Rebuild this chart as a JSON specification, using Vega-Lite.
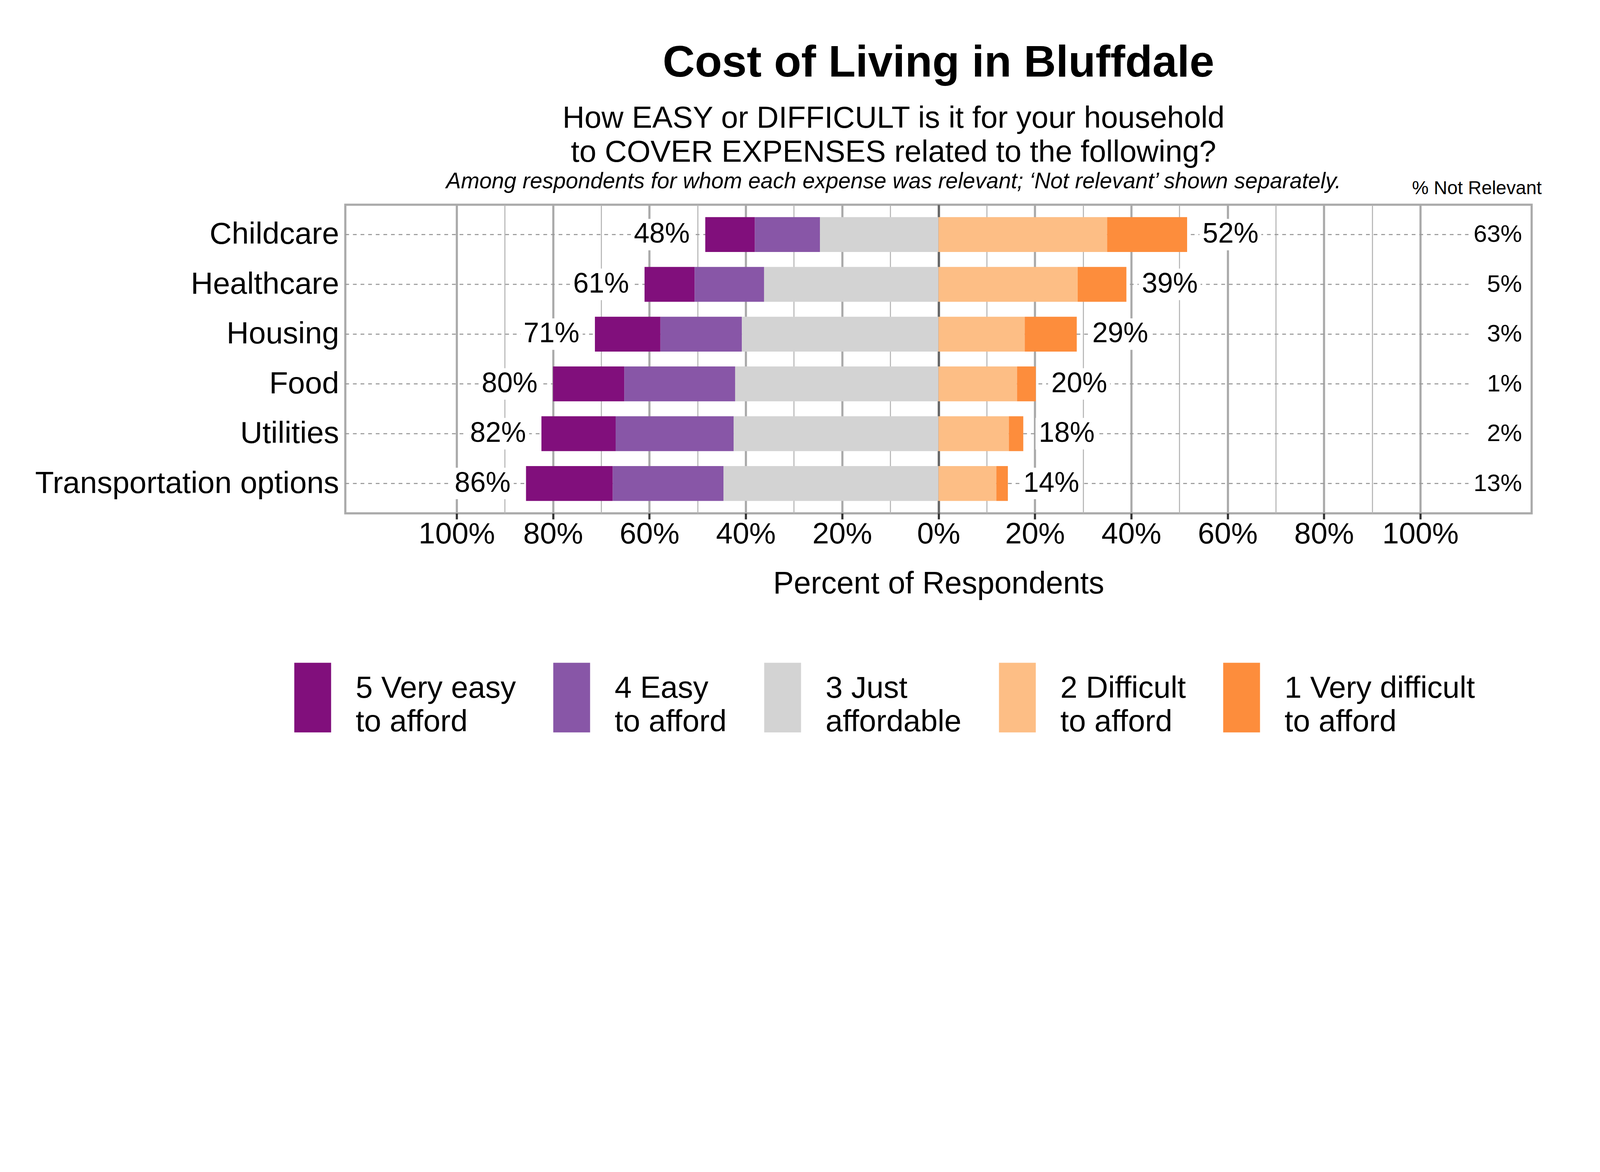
{
  "$schema": "https://vega.github.io/schema/vega-lite/v6.json",
  "width": 3037,
  "height": 790,
  "padding": {"left": 89, "top": 105, "right": 7, "bottom": 7},
  "background": "white",
  "title": {
    "text": "Cost of Living in Bluffdale",
    "anchor": "middle",
    "frame": "group",
    "fontSize": 114,
    "fontWeight": "bold",
    "color": "black",
    "offset": 43.6
  },
  "datasets": {
    "bars": [
      {"item": "Childcare", "level": "5 Very easy to afford", "pct": -10.3},
      {"item": "Childcare", "level": "4 Easy to afford", "pct": -13.5},
      {"item": "Childcare", "level": "3 Just affordable", "pct": -24.6},
      {"item": "Childcare", "level": "2 Difficult to afford", "pct": 35.0},
      {"item": "Childcare", "level": "1 Very difficult to afford", "pct": 16.6},
      {"item": "Healthcare", "level": "5 Very easy to afford", "pct": -10.4},
      {"item": "Healthcare", "level": "4 Easy to afford", "pct": -14.4},
      {"item": "Healthcare", "level": "3 Just affordable", "pct": -36.2},
      {"item": "Healthcare", "level": "2 Difficult to afford", "pct": 28.9},
      {"item": "Healthcare", "level": "1 Very difficult to afford", "pct": 10.1},
      {"item": "Housing", "level": "5 Very easy to afford", "pct": -13.6},
      {"item": "Housing", "level": "4 Easy to afford", "pct": -16.9},
      {"item": "Housing", "level": "3 Just affordable", "pct": -40.8},
      {"item": "Housing", "level": "2 Difficult to afford", "pct": 17.9},
      {"item": "Housing", "level": "1 Very difficult to afford", "pct": 10.8},
      {"item": "Food", "level": "5 Very easy to afford", "pct": -14.8},
      {"item": "Food", "level": "4 Easy to afford", "pct": -23.0},
      {"item": "Food", "level": "3 Just affordable", "pct": -42.2},
      {"item": "Food", "level": "2 Difficult to afford", "pct": 16.3},
      {"item": "Food", "level": "1 Very difficult to afford", "pct": 3.9},
      {"item": "Utilities", "level": "5 Very easy to afford", "pct": -15.4},
      {"item": "Utilities", "level": "4 Easy to afford", "pct": -24.5},
      {"item": "Utilities", "level": "3 Just affordable", "pct": -42.5},
      {"item": "Utilities", "level": "2 Difficult to afford", "pct": 14.6},
      {"item": "Utilities", "level": "1 Very difficult to afford", "pct": 3.0},
      {"item": "Transportation options", "level": "5 Very easy to afford", "pct": -18.0},
      {"item": "Transportation options", "level": "4 Easy to afford", "pct": -23.0},
      {"item": "Transportation options", "level": "3 Just affordable", "pct": -44.6},
      {"item": "Transportation options", "level": "2 Difficult to afford", "pct": 12.0},
      {"item": "Transportation options", "level": "1 Very difficult to afford", "pct": 2.4}
    ],
    "notrel": [
      {"item": "Childcare", "notrel": 63},
      {"item": "Healthcare", "notrel": 5},
      {"item": "Housing", "notrel": 3},
      {"item": "Food", "notrel": 1},
      {"item": "Utilities", "notrel": 2},
      {"item": "Transportation options", "notrel": 13}
    ]
  },
  "resolve": {"axis": {"x": "independent", "y": "independent"}},
  "layer": [
    {
      "data": {"name": "notrel"},
      "mark": {"type": "rule", "color": "#999999", "strokeWidth": 2.7, "strokeDash": [9.6, 9.9]},
      "encoding": {
        "x": {"datum": -123.1, "type": "quantitative", "axis": null},
        "x2": {"datum": 110},
        "y": {"field": "item", "type": "nominal", "axis": null}
      }
    },
    {
      "data": {"name": "bars"},
      "transform": [
        {"calculate": "indexof(['3 Just affordable','4 Easy to afford','5 Very easy to afford','2 Difficult to afford','1 Very difficult to afford'], datum.level)", "as": "rank"}
      ],
      "mark": {"type": "bar"},
      "encoding": {
        "x": {
          "field": "pct",
          "type": "quantitative",
          "stack": "zero",
          "scale": {"domain": [-123.1, 123.1], "nice": false, "zero": false},
          "axis": {
            "orient": "bottom",
            "values": [-100, -90, -80, -70, -60, -50, -40, -30, -20, -10, 0, 10, 20, 30, 40, 50, 60, 70, 80, 90, 100],
            "labelExpr": "datum.value % 20 == 0 ? abs(datum.value) + '%' : ''",
            "labelFontSize": 76.5,
            "labelColor": "black",
            "labelPadding": 1.4,
            "labelLimit": 1000,
            "labelOverlap": false,
            "labelFlush": false,
            "domain": false,
            "tickSize": 15,
            "tickWidth": 5.5,
            "tickColor": {"condition": {"test": "datum.value % 20 == 0", "value": "#333333"}, "value": "transparent"},
            "grid": true,
            "gridColor": {"condition": [{"test": "datum.value == 0", "value": "#666666"}, {"test": "datum.value % 20 == 0", "value": "#aaaaaa"}], "value": "#b5b5b5"},
            "gridWidth": {"condition": [{"test": "datum.value == 0", "value": 5.9}, {"test": "datum.value % 20 == 0", "value": 5.5}], "value": 2.7},
            "title": "Percent of Respondents",
            "titleFontSize": 79,
            "titleFontWeight": "normal",
            "titleColor": "black",
            "titlePadding": 51,
            "titleLimit": 3000
          }
        },
        "y": {
          "field": "item",
          "type": "nominal",
          "scale": {
            "domain": ["Childcare", "Healthcare", "Housing", "Food", "Utilities", "Transportation options"],
            "paddingInner": 0.3,
            "paddingOuter": 0.25
          },
          "axis": {
            "orient": "left",
            "labelFontSize": 78.5,
            "labelColor": "black",
            "labelPadding": 16.4,
            "labelLimit": 3000,
            "ticks": false,
            "tickSize": 0,
            "domain": false,
            "grid": false,
            "title": "Among respondents for whom each expense was relevant; \u2018Not relevant\u2019 shown separately.",
            "titleAngle": 0,
            "titleAlign": "center",
            "titleBaseline": "alphabetic",
            "titleX": 1403,
            "titleY": -43,
            "titleFontSize": 56.8,
            "titleFontStyle": "italic",
            "titleFontWeight": "normal",
            "titleColor": "black",
            "titleLimit": 4000
          }
        },
        "color": {
          "field": "level",
          "type": "nominal",
          "scale": {
            "domain": ["5 Very easy to afford", "4 Easy to afford", "3 Just affordable", "2 Difficult to afford", "1 Very difficult to afford"],
            "range": ["#810F7C", "#8856A7", "#D3D3D3", "#FDBE85", "#FD8D3C"]
          },
          "legend": {
            "orient": "none",
            "legendX": -173,
            "legendY": 1172,
            "direction": "horizontal",
            "title": null,
            "padding": 0,
            "symbolType": "M-0.529,-1H0.529V1H-0.529Z",
            "symbolSize": 31755,
            "symbolStrokeWidth": 0,
            "symbolOpacity": 1,
            "labelFontSize": 78.5,
            "labelColor": "black",
            "labelLimit": 1500,
            "labelOffset": 20.5,
            "labelBaseline": "alphabetic",
            "columnPadding": 53,
            "labelExpr": "datum.label == '5 Very easy to afford' ? ['5 Very easy', 'to afford'] : datum.label == '4 Easy to afford' ? ['4 Easy', 'to afford'] : datum.label == '3 Just affordable' ? ['3 Just', 'affordable'] : datum.label == '2 Difficult to afford' ? ['2 Difficult', 'to afford'] : ['1 Very difficult', 'to afford']"
          }
        },
        "order": {"field": "rank", "type": "quantitative"}
      }
    },
    {
      "data": {"name": "bars"},
      "transform": [
        {"calculate": "datum.pct < 0 ? -1 : 1", "as": "side"},
        {"aggregate": [{"op": "sum", "field": "pct", "as": "end"}], "groupby": ["item", "side"]},
        {"calculate": "format(abs(datum.end), '.0f') + '%'", "as": "label"}
      ],
      "layer": [
        {
          "transform": [{"filter": "datum.side < 0"}],
          "mark": {"type": "bar", "color": "white", "height": 80.6, "xOffset": -31.4, "x2Offset": -190},
          "encoding": {
            "x": {"field": "end", "type": "quantitative", "axis": null},
            "x2": {"field": "end"},
            "y": {"field": "item", "type": "nominal", "axis": null}
          }
        },
        {
          "transform": [{"filter": "datum.side > 0"}],
          "mark": {"type": "bar", "color": "white", "height": 80.6, "xOffset": 31.4, "x2Offset": 190},
          "encoding": {
            "x": {"field": "end", "type": "quantitative", "axis": null},
            "x2": {"field": "end"},
            "y": {"field": "item", "type": "nominal", "axis": null}
          }
        },
        {
          "transform": [{"filter": "datum.side < 0"}],
          "mark": {"type": "text", "align": "right", "baseline": "middle", "dx": -39.6, "fontSize": 71.5, "color": "black"},
          "encoding": {
            "x": {"field": "end", "type": "quantitative", "axis": null},
            "y": {"field": "item", "type": "nominal", "axis": null},
            "text": {"field": "label"}
          }
        },
        {
          "transform": [{"filter": "datum.side > 0"}],
          "mark": {"type": "text", "align": "left", "baseline": "middle", "dx": 39.6, "fontSize": 71.5, "color": "black"},
          "encoding": {
            "x": {"field": "end", "type": "quantitative", "axis": null},
            "y": {"field": "item", "type": "nominal", "axis": null},
            "text": {"field": "label"}
          }
        }
      ]
    },
    {
      "data": {"name": "notrel"},
      "transform": [
        {"calculate": "datum.notrel + '%'", "as": "label"}
      ],
      "mark": {"type": "text", "align": "right", "baseline": "middle", "fontSize": 62, "color": "black"},
      "encoding": {
        "x": {
          "datum": 121.1,
          "type": "quantitative",
          "axis": {
            "orient": "top",
            "labels": false,
            "ticks": false,
            "domain": false,
            "grid": false,
            "title": ["How EASY or DIFFICULT is it for your household", "to COVER EXPENSES related to the following?"],
            "titleX": 1403,
            "titleY": -198,
            "titleAlign": "center",
            "titleBaseline": "alphabetic",
            "titleLineHeight": 87,
            "titleFontSize": 78,
            "titleFontWeight": "normal",
            "titleColor": "black",
            "titleLimit": 4000
          }
        },
        "y": {
          "field": "item",
          "type": "nominal",
          "axis": {
            "orient": "right",
            "labels": false,
            "ticks": false,
            "domain": false,
            "grid": false,
            "title": "% Not Relevant",
            "titleAngle": 0,
            "titleAlign": "right",
            "titleBaseline": "alphabetic",
            "titleX": 25.3,
            "titleY": -27.3,
            "titleFontSize": 47.8,
            "titleFontWeight": "normal",
            "titleColor": "black"
          }
        },
        "text": {"field": "label"}
      }
    }
  ],
  "config": {
    "font": "Liberation Sans",
    "view": {"stroke": "#aaaaaa", "strokeWidth": 5.5},
    "style": {"guide-label": {"lineHeight": 86.7}}
  }
}
